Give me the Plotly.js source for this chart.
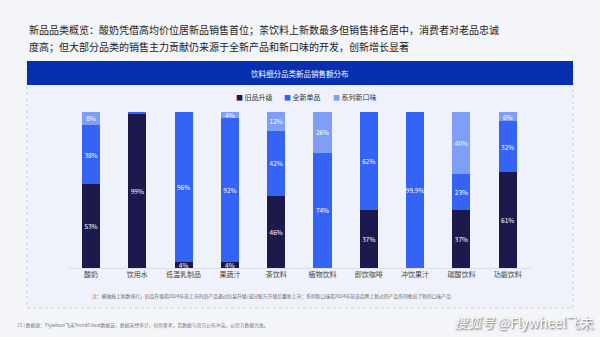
<!DOCTYPE html>
<html><head><meta charset="utf-8">
<script src="https://cdn.plot.ly/plotly-3.0.1.min.js"></script>
<style>html,body{margin:0;padding:0;background:#f4f5f9;}#c{width:600px;height:337px;}</style>
</head><body><div id="c"></div>
<script>
const categories = ['酸奶','饮用水','低温乳制品','果蔬汁','茶饮料','植物饮料','即饮咖啡','冲饮果汁','碳酸饮料','功能饮料'];
const oldUpgrade = [53, 99, 4, 4, 46, 0, 37, 0, 37, 61];
const newSingle  = [38, 1, 96, 92, 42, 74, 62, 99.9, 23, 32];
const newFlavor  = [8, 0, 0, 4, 12, 26, 0, 0.1, 40, 6];
const seriesNames = ['旧品升级','全新单品','系列新口味'];
const colors = ['#1c1a4d','#3563f5','#7f9ef5'];

const F = '"Noto Sans CJK SC", "Noto Sans", sans-serif';
const lab = v => (v >= 2 ? v + '%' : '');
const mk = (vals, i) => ({
  type: 'bar', x: categories, y: vals, name: seriesNames[i],
  marker: {color: colors[i], line: {width: 0}},
  text: vals.map(lab), textposition: 'inside', insidetextanchor: 'middle',
  textangle: 0, constraintext: 'none',
  textfont: {color: '#ffffff', size: 6.5, family: F},
  hoverinfo: 'skip', showlegend: false
});
const data = [mk(oldUpgrade,0), mk(newSingle,1), mk(newFlavor,2)];

const H = 337, W = 600;
const py = px => 1 - px / H;
const pxx = px => px / W;

const shapes = [
  {type:'rect', xref:'paper', yref:'paper', x0:pxx(27), x1:pxx(573), y0:py(308), y1:py(62),
   fillcolor:'#f0f2fb', line:{color:'#c9cfe3', width:1, dash:'dot'}, layer:'below'},
  {type:'rect', xref:'paper', yref:'paper', x0:pxx(27), x1:pxx(573), y0:py(85), y1:py(61),
   fillcolor:'#0630b0', line:{width:0}, layer:'below'}
];

const legendX = [234, 282, 331];
const annotations = [
  {text:'新品品类概览：酸奶凭借高均价位居新品销售首位；茶饮料上新数最多但销售排名居中，消费者对老品忠诚', x:pxx(27), y:py(30), xref:'paper', yref:'paper', xanchor:'left', yanchor:'middle', showarrow:false, font:{family:F, size:10, color:'#222222'}},
  {text:'度高；但大部分品类的销售主力贡献仍来源于全新产品和新口味的开发，创新增长显著', x:pxx(27), y:py(46), xref:'paper', yref:'paper', xanchor:'left', yanchor:'middle', showarrow:false, font:{family:F, size:10, color:'#222222'}},
  {text:'饮料细分品类新品销售额分布', x:0.5, y:py(73), xref:'paper', yref:'paper', xanchor:'center', yanchor:'middle', showarrow:false, font:{family:F, size:7.5, color:'#ffffff'}},
  {text:'注：横轴按上新数排行，旧品升级指2024年前上市的旧产品通过包装升级/成分配方升级后重新上市；系列新口味指2024年前该品牌上新过的产品系列推出了新的口味产品', x:pxx(90), y:py(296), xref:'paper', yref:'paper', xanchor:'left', yanchor:'middle', showarrow:false, font:{family:F, size:4.8, color:'#666666'}},
  {text:'15 | 数据源：Flywheel飞未TrendCloud数据云，数据未经审计，仅供参考，若数据与官方公布冲突，以官方数据为准。', x:pxx(15), y:py(325), xref:'paper', yref:'paper', xanchor:'left', yanchor:'middle', showarrow:false, font:{family:F, size:4.8, color:'#777777'}},
  {text:'<i>搜狐号</i> @Flywheel飞未', x:pxx(596), y:py(322), xref:'paper', yref:'paper', xanchor:'right', yanchor:'middle', showarrow:false, font:{family:F, size:13.5, color:'#ffffff', shadow:'1px 1px 2px #555555'}}
];
seriesNames.forEach((n, i) => {
  annotations.push({text:'<span style="color:'+colors[i]+'">■</span> ' + n, x:pxx(legendX[i]), y:py(97), xref:'paper', yref:'paper', xanchor:'left', yanchor:'middle', showarrow:false, font:{family:F, size:7, color:'#333333'}});
});

const layout = {
  width: 600, height: 337,
  margin: {l:0, r:0, t:0, b:0},
  paper_bgcolor: '#f4f5f9', plot_bgcolor: 'rgba(0,0,0,0)',
  barmode: 'stack', barnorm: 'percent', bargap: 0.61,
  uniformtext: {minsize: 6.5, mode: 'show'},
  showlegend: false,
  xaxis: {domain:[pxx(67.85), pxx(530.85)], showgrid:false, zeroline:false, showline:true, linecolor:'#dcdfe8', linewidth:1,
    ticks:'', tickfont:{family:F, size:7, color:'#444444'}, fixedrange:true},
  yaxis: {domain:[py(268), py(112)], range:[0,100], showgrid:false, zeroline:false, showticklabels:false, showline:false, fixedrange:true},
  shapes: shapes, annotations: annotations
};
Plotly.newPlot('c', data, layout, {displayModeBar:false, staticPlot:true});
</script></body></html>
